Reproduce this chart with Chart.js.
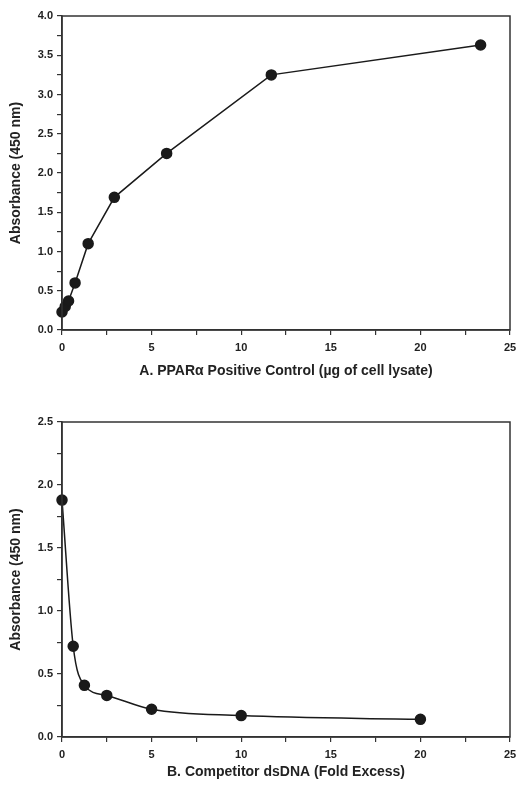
<!DOCTYPE html>
<html>
<head>
<meta charset="utf-8">
<script src="https://cdn.jsdelivr.net/npm/chart.js@4/dist/chart.umd.min.js"></script>
<style>
  body { margin: 0; background: #fff; }
  .box { position: absolute; left: 0; width: 519px; }
  #boxA { top: 0; height: 385px; }
  #boxB { top: 390px; height: 399px; }
</style>
</head>
<body>
<div class="box" id="boxA"><canvas id="chartA"></canvas></div>
<div class="box" id="boxB"><canvas id="chartB"></canvas></div>
<script>
// A. PPARa positive control
const lysateUg = [0, 0.18, 0.365, 0.73, 1.46, 2.92, 5.84, 11.68, 23.36];
const absorbanceA = [0.23, 0.30, 0.37, 0.60, 1.10, 1.69, 2.25, 3.25, 3.63];

// B. Competitor dsDNA
const foldExcess = [0, 0.625, 1.25, 2.5, 5, 10, 20];
const absorbanceB = [1.88, 0.72, 0.41, 0.33, 0.22, 0.17, 0.14];

const ink = '#1a1a1a';
const axisColor = '#333';
const font = 'Liberation Sans, Arial, Helvetica, sans-serif';

// draws the box around the plot (top and right sides)
const frame = {
  id: 'frame',
  afterDraw(chart) {
    const a = chart.chartArea, c = chart.ctx;
    c.save();
    c.strokeStyle = axisColor;
    c.lineWidth = 1.5;
    c.strokeRect(a.left, a.top, a.right - a.left, a.bottom - a.top);
    c.restore();
  }
};

function makeChart(id, xs, ys, opts) {
  const points = xs.map((x, i) => ({ x: x, y: ys[i] }));
  const ctx = document.getElementById(id).getContext('2d');
  return new Chart(ctx, {
    type: 'scatter',
    data: {
      datasets: [{
        data: points,
        showLine: true,
        clip: false,
        borderColor: ink,
        backgroundColor: ink,
        borderWidth: 1.5,
        pointRadius: 5,
        pointHoverRadius: 5,
        tension: opts.smooth ? 0.4 : 0,
        cubicInterpolationMode: opts.smooth ? 'monotone' : 'default'
      }]
    },
    options: {
      responsive: true,
      maintainAspectRatio: false,
      animation: false,
      layout: { padding: { top: opts.padTop, right: 9, left: 0, bottom: 0 } },
      plugins: { legend: { display: false }, tooltip: { enabled: false } },
      scales: {
        x: {
          type: 'linear',
          min: 0,
          max: 25,
          afterFit(s) { s.height = opts.xHeight; s.paddingLeft = 0; s.paddingRight = 0; },
          border: { display: true, color: axisColor, width: 1.5 },
          grid: { drawOnChartArea: false, drawTicks: true, tickLength: 5, color: axisColor, lineWidth: 1.2 },
          ticks: {
            stepSize: 2.5,
            autoSkip: false,
            maxRotation: 0,
            padding: 6,
            color: '#222',
            font: { family: font, size: 11, weight: 'bold' },
            callback: v => (v % 5 === 0 ? String(v) : '')
          },
          title: {
            display: true,
            text: opts.xTitle,
            color: '#222',
            padding: { top: 0, bottom: opts.titlePad },
            font: { family: font, size: 14, weight: 'bold' }
          }
        },
        y: {
          min: 0,
          max: opts.yMax,
          afterFit(s) { s.width = 62; s.paddingTop = 0; s.paddingBottom = 0; },
          border: { display: true, color: axisColor, width: 1.5 },
          grid: { drawOnChartArea: false, drawTicks: true, tickLength: 5, color: axisColor, lineWidth: 1.2 },
          ticks: {
            stepSize: 0.25,
            autoSkip: false,
            padding: 4,
            color: '#222',
            font: { family: font, size: 11, weight: 'bold' },
            callback: v => (Math.abs(v * 2 - Math.round(v * 2)) < 1e-6 ? v.toFixed(1) : '')
          },
          title: {
            display: true,
            text: 'Absorbance (450 nm)',
            color: '#222',
            padding: { top: 8, bottom: 0 },
            font: { family: font, size: 14, weight: 'bold' }
          }
        }
      }
    },
    plugins: [frame]
  });
}

makeChart('chartA', lysateUg, absorbanceA, {
  padTop: 16, xHeight: 55, yMax: 4, titlePad: 5, smooth: false,
  xTitle: 'A. PPARα Positive Control (µg of cell lysate)'
});

makeChart('chartB', foldExcess, absorbanceB, {
  padTop: 32, xHeight: 52, yMax: 2.5, titlePad: 8, smooth: true,
  xTitle: 'B. Competitor dsDNA (Fold Excess)'
});
</script>
</body>
</html>
